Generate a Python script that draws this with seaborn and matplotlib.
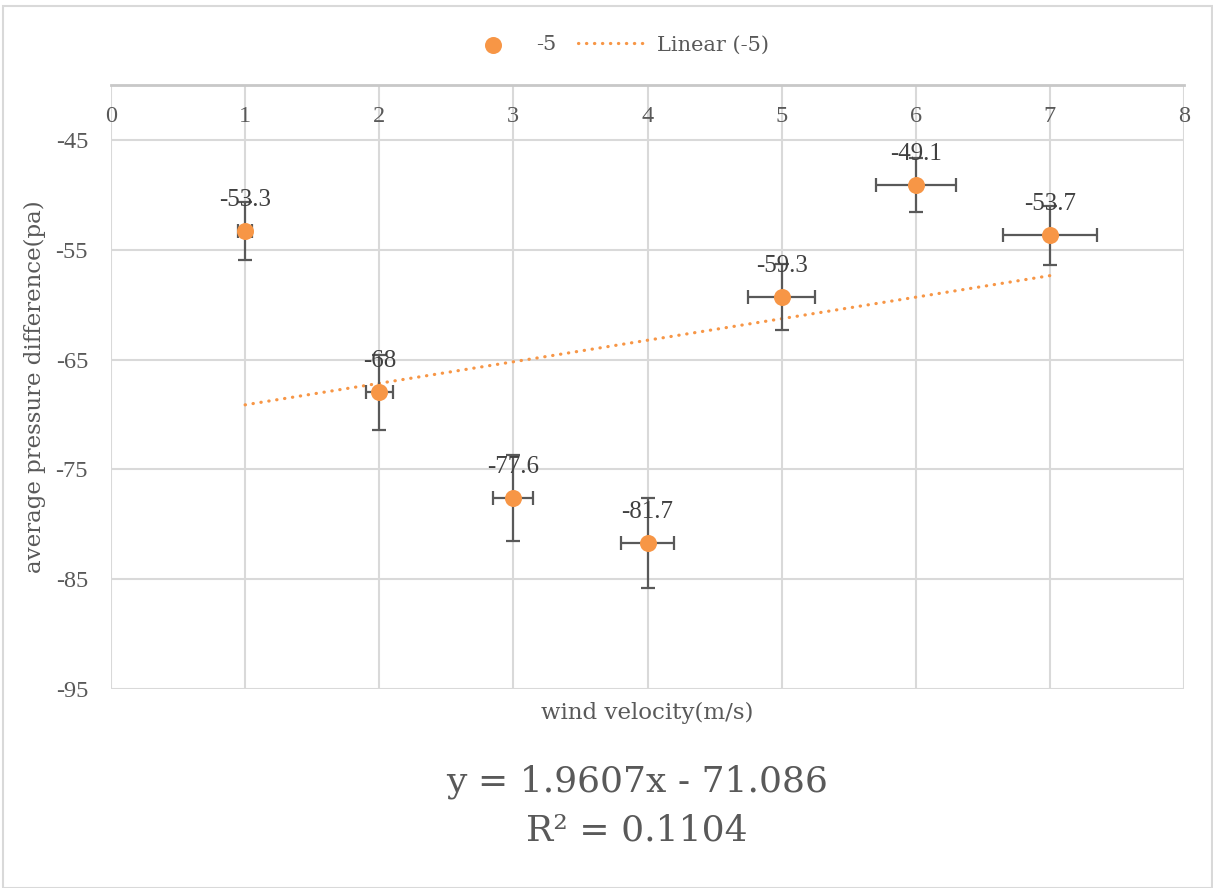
import numpy as np
import pandas as pd
import matplotlib
matplotlib.use("Agg")
import matplotlib.pyplot as plt
import seaborn as sns
from matplotlib.patches import Rectangle

# ---- data ----
wind = [1, 2, 3, 4, 5, 6, 7]
pressure = [-53.3, -68.0, -77.6, -81.7, -59.3, -49.1, -53.7]
y_err = [2.665, 3.4, 3.88, 4.085, 2.965, 2.455, 2.685]
x_err = [0.05, 0.10, 0.15, 0.20, 0.25, 0.30, 0.35]
labels = ["-53.3", "-68", "-77.6", "-81.7", "-59.3", "-49.1", "-53.7"]
x_ticks = [0, 1, 2, 3, 4, 5, 6, 7, 8]
y_ticks = [-95, -85, -75, -65, -55, -45]
series_name = "-5"
trend_name = "Linear (-5)"
eq_line1 = "y = 1.9607x - 71.086"
eq_line2 = "R² = 0.1104"

df = pd.DataFrame({"wind": wind, "pressure": pressure})

ORANGE = "#F79646"
GRAY = "#595959"
GRID = "#D9D9D9"
TITLE_FONT = ["DejaVu Serif"]

sns.set_theme(style="white")
plt.rcParams["font.family"] = ["Liberation Serif", "DejaVu Serif"]
plt.rcParams["axes.unicode_minus"] = False

W, H = 1213, 888
fig = plt.figure(figsize=(W / 100, H / 100), dpi=100)
ax = fig.add_axes([111 / W, 1 - 689 / H, (1184 - 111) / W, (689 - 85) / H])

ax.set_xlim(0, 8)
ax.set_ylim(-95, -40)
ax.set_xticks(x_ticks)
ax.set_yticks(y_ticks)
ax.grid(True, color=GRID, linewidth=1.5)
ax.set_axisbelow(True)
for s in ["left", "right", "bottom"]:
    ax.spines[s].set_visible(False)
ax.spines["top"].set_color("#C8C8C8")
ax.spines["top"].set_linewidth(2)

ax.xaxis.set_ticks_position("top")
ax.tick_params(axis="x", top=False, bottom=False, labeltop=True, labelbottom=False,
               length=0, pad=-30, labelsize=17.5, labelcolor=GRAY)
ax.tick_params(axis="y", left=False, length=0, labelsize=17.5, labelcolor=GRAY, pad=16.5)

# trend line
sns.regplot(data=df, x="wind", y="pressure", ax=ax, scatter=False, ci=None,
            truncate=True, color=ORANGE,
            line_kws=dict(linestyle=(0, (0.1, 2.4)), linewidth=2.3,
                          dash_capstyle="round", zorder=2))
trend_line = ax.lines[-1]
trend_line.set_label(trend_name)

# error bars
ax.errorbar(wind, pressure, yerr=y_err, xerr=x_err, fmt="none", ecolor=GRAY,
            elinewidth=1.6, capsize=5, capthick=1.6, zorder=3)

# points
sns.scatterplot(data=df, x="wind", y="pressure", ax=ax, color=ORANGE, s=150,
                edgecolor=ORANGE, linewidth=0, zorder=4, label=series_name)
ax.set_xlim(0, 8)
ax.set_ylim(-95, -40)

for xv, yv, t in zip(wind, pressure, labels):
    ax.annotate(t, (xv, yv), xytext=(0, 22.5), textcoords="offset points",
                ha="center", va="center", fontsize=18, color="#404040", zorder=5)

ax.set_xlabel("")
ax.set_ylabel("")
fig.text(647.5 / W, 1 - 713 / H, "wind velocity(m/s)", ha="center", va="center",
         fontsize=16.5, color=GRAY, family=TITLE_FONT)
fig.text(35 / W, 1 - 387 / H, "average pressure difference(pa)", ha="center",
         va="center", rotation=90, fontsize=16.5, color=GRAY, family=TITLE_FONT)
fig.text(637 / W, 1 - 782 / H, eq_line1, ha="center", va="center",
         fontsize=26, color=GRAY, family=TITLE_FONT)
fig.text(637 / W, 1 - 830 / H, eq_line2, ha="center", va="center",
         fontsize=26, color=GRAY, family=TITLE_FONT)

# legend
sc_handle = ax.collections[0]
if ax.get_legend() is not None:
    ax.get_legend().remove()
handles, lbls = ax.get_legend_handles_labels()
h_series = handles[lbls.index(series_name)] if series_name in lbls else sc_handle
leg = fig.legend([h_series, trend_line], [series_name, trend_name],
                 loc="center", bbox_to_anchor=(613 / W, 1 - 45 / H), ncol=2,
                 frameon=False, handlelength=3.4, columnspacing=1.0,
                 handletextpad=0.4, labelcolor=GRAY,
                 prop=dict(family=TITLE_FONT, size=15))

# chart area border
fig.patches.append(Rectangle((3 / W, 0), 1209 / W, 1 - 6 / H, transform=fig.transFigure,
                             fill=False, edgecolor=GRID, linewidth=1.5))

fig.savefig("out.png", dpi=100, facecolor="white")
